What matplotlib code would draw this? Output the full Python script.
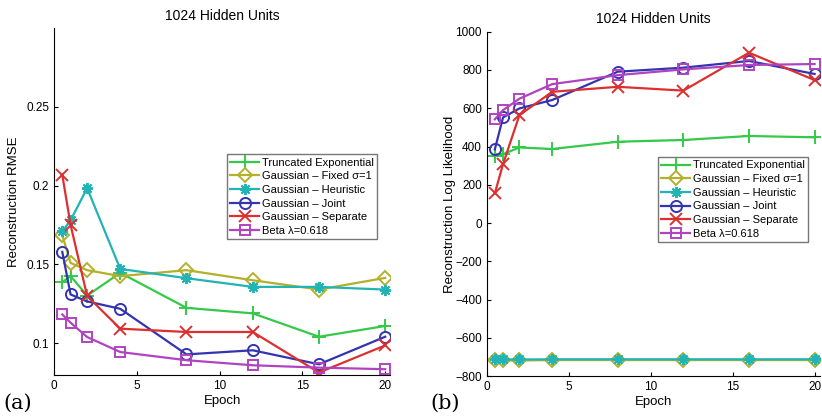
import matplotlib
matplotlib.use("Agg")
import matplotlib.pyplot as plt

plt.rcParams['font.family'] = ['Liberation Sans', 'DejaVu Sans']

epochs = [0.5, 1, 2, 4, 8, 12, 16, 20]

labels = ["Truncated Exponential", "Gaussian \u2013 Fixed \u03c3=1", "Gaussian \u2013 Heuristic",
          "Gaussian \u2013 Joint", "Gaussian \u2013 Separate", "Beta \u03bb=0.618"]
colors = ["#35c94a", "#b3b02c", "#22b4b4", "#3434b0", "#dc3030", "#b044c0"]
markers = ["+", "D", (8, 2, 0), "o", "x", "s"]

# reconstruction RMSE per model
rmse_trunc = [0.1388, 0.1426, 0.1303, 0.1447, 0.1225, 0.119, 0.1042, 0.111]
rmse_fixed = [0.1687, 0.151, 0.1464, 0.1426, 0.1464, 0.140, 0.1341, 0.1415]
rmse_heur = [0.171, 0.178, 0.1984, 0.1472, 0.1413, 0.1358, 0.1358, 0.1341]
rmse_joint = [0.158, 0.131, 0.1266, 0.1219, 0.093, 0.0956, 0.0867, 0.1042]
rmse_sep = [0.2068, 0.1752, 0.130, 0.1093, 0.1072, 0.1072, 0.0815, 0.0987]
rmse_beta = [0.1183, 0.1131, 0.104, 0.0945, 0.0893, 0.0861, 0.0846, 0.0836]

# reconstruction log likelihood per model
ll_trunc = [352, 360, 395, 387, 425, 434, 455, 448]
ll_fixed = [-718, -718, -718, -716, -716, -716, -716, -716]
ll_heur = [-713, -713, -713, -712, -712, -712, -712, -712]
ll_joint = [385, 552, 599, 643, 791, 812, 847, 779]
ll_sep = [155, 308, 564, 686, 712, 692, 890, 747]
ll_beta = [542, 590, 650, 726, 773, 803, 826, 831]

rmse_series = [rmse_trunc, rmse_fixed, rmse_heur, rmse_joint, rmse_sep, rmse_beta]
ll_series = [ll_trunc, ll_fixed, ll_heur, ll_joint, ll_sep, ll_beta]


def draw(ax, series):
    for vals, lab, c, m in zip(series, labels, colors, markers):
        ms = 8
        if m == "D":
            ms = 7
        elif m == "s":
            ms = 7
        elif m == "+":
            ms = 10
        ax.plot(epochs, vals, color=c, marker=m, markersize=ms, markerfacecolor="none",
                markeredgecolor=c, markeredgewidth=1.4, linewidth=1.6, label=lab)
    for s in ["top", "right"]:
        ax.spines[s].set_visible(False)
    ax.tick_params(direction="in", labelsize=8.5, length=3)
    ax.set_xticks([0, 5, 10, 15, 20])
    ax.set_title("1024 Hidden Units", fontsize=10)
    ax.set_xlabel("Epoch", fontsize=9.5, labelpad=2)
    ax.legend(loc="upper left", bbox_to_anchor=(0.515, 0.636), fontsize=8, frameon=True,
              fancybox=False, edgecolor="#555555", handlelength=2.6, borderpad=0.3,
              labelspacing=0.33, handletextpad=0.25, borderaxespad=0)


fig = plt.figure(figsize=(8.22, 4.17), dpi=100)
ax1 = fig.add_axes([0.0657, 0.101, 0.409, 0.832])
ax2 = fig.add_axes([0.592, 0.098, 0.405, 0.826])

draw(ax1, rmse_series)
ax1.set_xlim(0, 20.3)
ax1.set_ylim(0.08, 0.30)
ax1.set_yticks([0.1, 0.15, 0.2, 0.25])
ax1.set_yticklabels(["0.1", "0.15", "0.2", "0.25"])
ax1.set_ylabel("Reconstruction RMSE", fontsize=9.5)

draw(ax2, ll_series)
ax2.set_xlim(0, 20.3)
ax2.set_ylim(-800, 1000)
ax2.set_yticks(range(-800, 1001, 200))
ax2.set_ylabel("Reconstruction Log Likelihood", fontsize=9.5, labelpad=-1)

fig.text(0.004, 0.02, "(a)", fontsize=15, family="DejaVu Serif")
fig.text(0.523, 0.02, "(b)", fontsize=15, family="DejaVu Serif")

fig.savefig("out.png", dpi=100)
